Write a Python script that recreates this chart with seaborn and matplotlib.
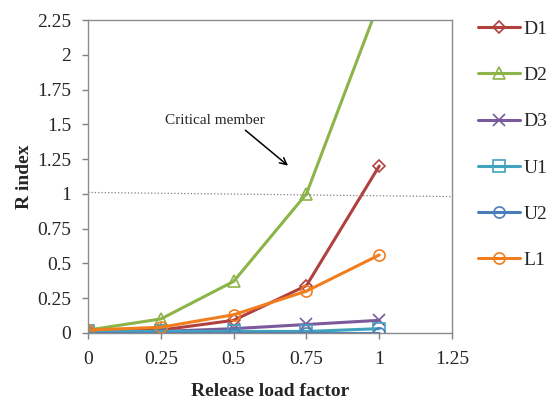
"""R index versus release load factor for the critical members."""

import matplotlib.pyplot as plt
import pandas as pd
import seaborn as sns

load_factor = [0, 0.25, 0.5, 0.75, 1]
members = ["D1", "D2", "D3", "U1", "U2", "L1"]
r_d1 = [0.01, 0.02, 0.09, 0.34, 1.20]
r_d2 = [0.02, 0.10, 0.37, 1.00, 2.38]
r_d3 = [0.00, 0.01, 0.03, 0.06, 0.09]
r_u1 = [0.01, 0.01, 0.01, 0.01, 0.03]
r_u2 = [0.00, 0.00, 0.00, 0.00, 0.00]
r_l1 = [0.02, 0.04, 0.13, 0.30, 0.56]
colors = ["#B0413E", "#8DB448", "#7A5A9C", "#3FA3BE", "#4A7EBB", "#F07E1E"]
markers = ["D", "^", "x", "s", "o", "o"]
critical_x = [0, 1.25]
critical_y = [1.01, 0.98]


def main():
    sns.set_theme(style="white")
    plt.rcParams["font.family"] = ["Liberation Serif", "DejaVu Serif"]

    values = [r_d1, r_d2, r_d3, r_u1, r_u2, r_l1]
    df = pd.DataFrame(
        [(m, x, v) for m, vals in zip(members, values) for x, v in zip(load_factor, vals)],
        columns=["member", "factor", "r"],
    )

    fig = plt.figure(figsize=(5.58, 4.01), dpi=100)
    ax = fig.add_axes([0.158, 0.170, 0.652, 0.780])

    for m, c, mk in zip(members, colors, markers):
        sub = df[df["member"] == m]
        sns.lineplot(
            data=sub, x="factor", y="r", ax=ax, color=c, label=m,
            marker=mk, markersize=8 if mk != "D" else 6, linewidth=2.2,
            markerfacecolor="none", markeredgecolor=c, markeredgewidth=1.2,
        )

    ax.plot(critical_x, critical_y, linestyle=":", color="#808080", linewidth=0.9)
    ax.annotate(
        "", xy=(0.694, 1.19), xytext=(0.533, 1.47),
        arrowprops=dict(arrowstyle="->", color="black", lw=1.1),
    )
    ax.text(0.265, 1.53, "Critical member", fontsize=11, va="center")

    ax.set_xlim(0, 1.25)
    ax.set_ylim(0, 2.25)
    ax.set_xticks([0, 0.25, 0.5, 0.75, 1, 1.25])
    ax.set_xticklabels(["0", "0.25", "0.5", "0.75", "1", "1.25"])
    ax.set_yticks([0, 0.25, 0.5, 0.75, 1, 1.25, 1.5, 1.75, 2, 2.25])
    ax.set_yticklabels(["0", "0.25", "0.5", "0.75", "1", "1.25", "1.5", "1.75", "2", "2.25"])
    ax.tick_params(axis="both", direction="out", length=4, width=1, color="#808080",
                   labelsize=14, bottom=True, left=True)
    ax.tick_params(axis="x", pad=9)
    ax.tick_params(axis="y", pad=8)
    for s in ax.spines.values():
        s.set_color("#8C8C8C")
        s.set_linewidth(1)

    ax.set_xlabel("Release load factor", fontsize=14, fontweight="bold", labelpad=11)
    ax.set_ylabel("R index", fontsize=14, fontweight="bold", labelpad=3.5)

    ax.legend(loc="upper left", bbox_to_anchor=(1.023, 1.055), frameon=False,
              fontsize=14, labelspacing=1.47, handlelength=2.15, handletextpad=0.2)

    fig.savefig("out.png", dpi=100)


if __name__ == "__main__":
    main()
